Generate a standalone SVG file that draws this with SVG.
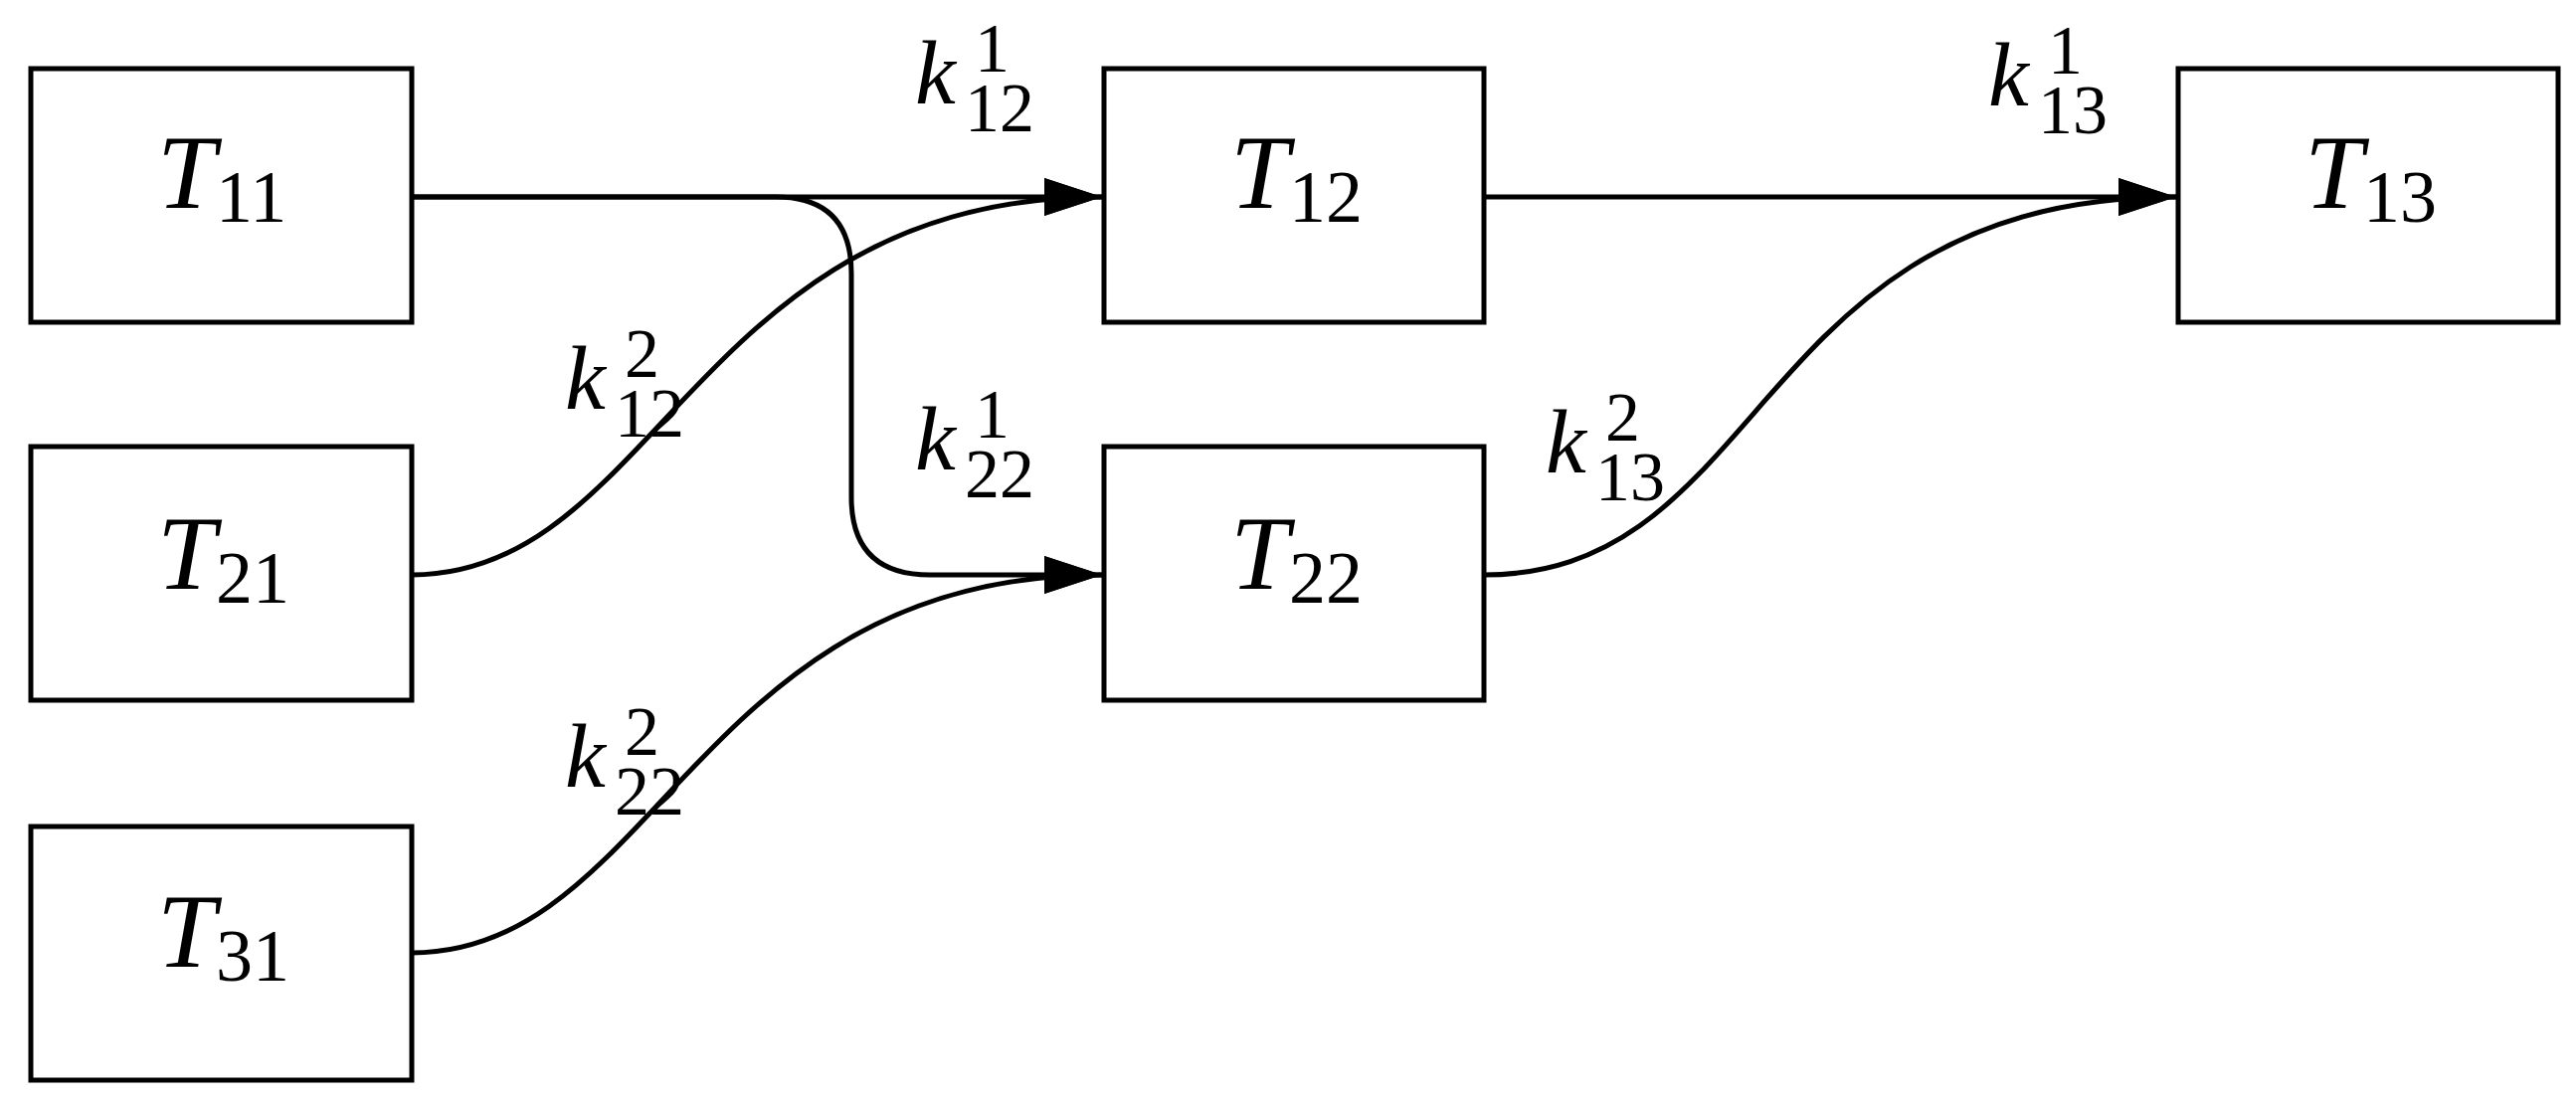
<svg xmlns="http://www.w3.org/2000/svg" width="2590" height="1111" viewBox="0 0 2590 1111">
<style>
.box{fill:#fff;stroke:#000;stroke-width:5}
.c{fill:none;stroke:#000;stroke-width:5}
text{font-family:"Liberation Serif",serif;fill:#000}
.T{font-size:106px;font-style:italic}
.ts{font-size:74px;font-style:normal}
.k{font-size:92px;font-style:italic}
.ks{font-size:70px;font-style:normal}
</style>
<defs>
<marker id="ah" markerUnits="userSpaceOnUse" markerWidth="64" markerHeight="44" refX="58" refY="19" orient="auto">
<path d="M0,0 L58,19 L0,38 Z" fill="#000"/>
</marker>
</defs>
<g id="T11"><rect class="box" x="31" y="69" width="383" height="255"/><text x="158" y="209"><tspan class="T">T</tspan><tspan class="ts" x="217" y="223">11</tspan></text></g>
<g id="T21"><rect class="box" x="31" y="449" width="383" height="255"/><text x="158" y="592"><tspan class="T">T</tspan><tspan class="ts" x="217" y="606">21</tspan></text></g>
<g id="T31"><rect class="box" x="31" y="831" width="383" height="255"/><text x="158" y="972"><tspan class="T">T</tspan><tspan class="ts" x="217" y="986">31</tspan></text></g>
<g id="T12"><rect class="box" x="1110" y="69" width="382" height="255"/><text x="1237" y="209"><tspan class="T">T</tspan><tspan class="ts" x="1296" y="223">12</tspan></text></g>
<g id="T22"><rect class="box" x="1110" y="449" width="382" height="255"/><text x="1237" y="592"><tspan class="T">T</tspan><tspan class="ts" x="1296" y="606">22</tspan></text></g>
<g id="T13"><rect class="box" x="2190" y="69" width="382" height="255"/><text x="2317" y="209"><tspan class="T">T</tspan><tspan class="ts" x="2376" y="223">13</tspan></text></g>
<g id="connectors">
<path class="c" d="M414,198 H1108" marker-end="url(#ah)"/>
<path class="c" d="M414,198 H780 Q856,198 856,275 V500 Q856,578 935,578 H1108" marker-end="url(#ah)"/>
<path class="c" d="M414,578 C660,578 700,198 1108,198" marker-end="url(#ah)"/>
<path class="c" d="M414,958 C660,958 700,578 1108,578" marker-end="url(#ah)"/>
<path class="c" d="M1492,198 H2188" marker-end="url(#ah)"/>
<path class="c" d="M1492,578 C1780,578 1760,198 2188,198" marker-end="url(#ah)"/>
</g>
<g id="labels">
<text x="920" y="104"><tspan class="k">k</tspan><tspan class="ks" x="980" y="72">1</tspan><tspan class="ks" x="970" y="132">12</tspan></text>
<text x="568" y="411"><tspan class="k">k</tspan><tspan class="ks" x="628" y="379">2</tspan><tspan class="ks" x="618" y="439">12</tspan></text>
<text x="920" y="472"><tspan class="k">k</tspan><tspan class="ks" x="980" y="440">1</tspan><tspan class="ks" x="970" y="500">22</tspan></text>
<text x="568" y="791"><tspan class="k">k</tspan><tspan class="ks" x="628" y="759">2</tspan><tspan class="ks" x="618" y="819">22</tspan></text>
<text x="1999" y="106"><tspan class="k">k</tspan><tspan class="ks" x="2059" y="74">1</tspan><tspan class="ks" x="2049" y="134">13</tspan></text>
<text x="1554" y="475"><tspan class="k">k</tspan><tspan class="ks" x="1614" y="443">2</tspan><tspan class="ks" x="1604" y="503">13</tspan></text>
</g>
</svg>
